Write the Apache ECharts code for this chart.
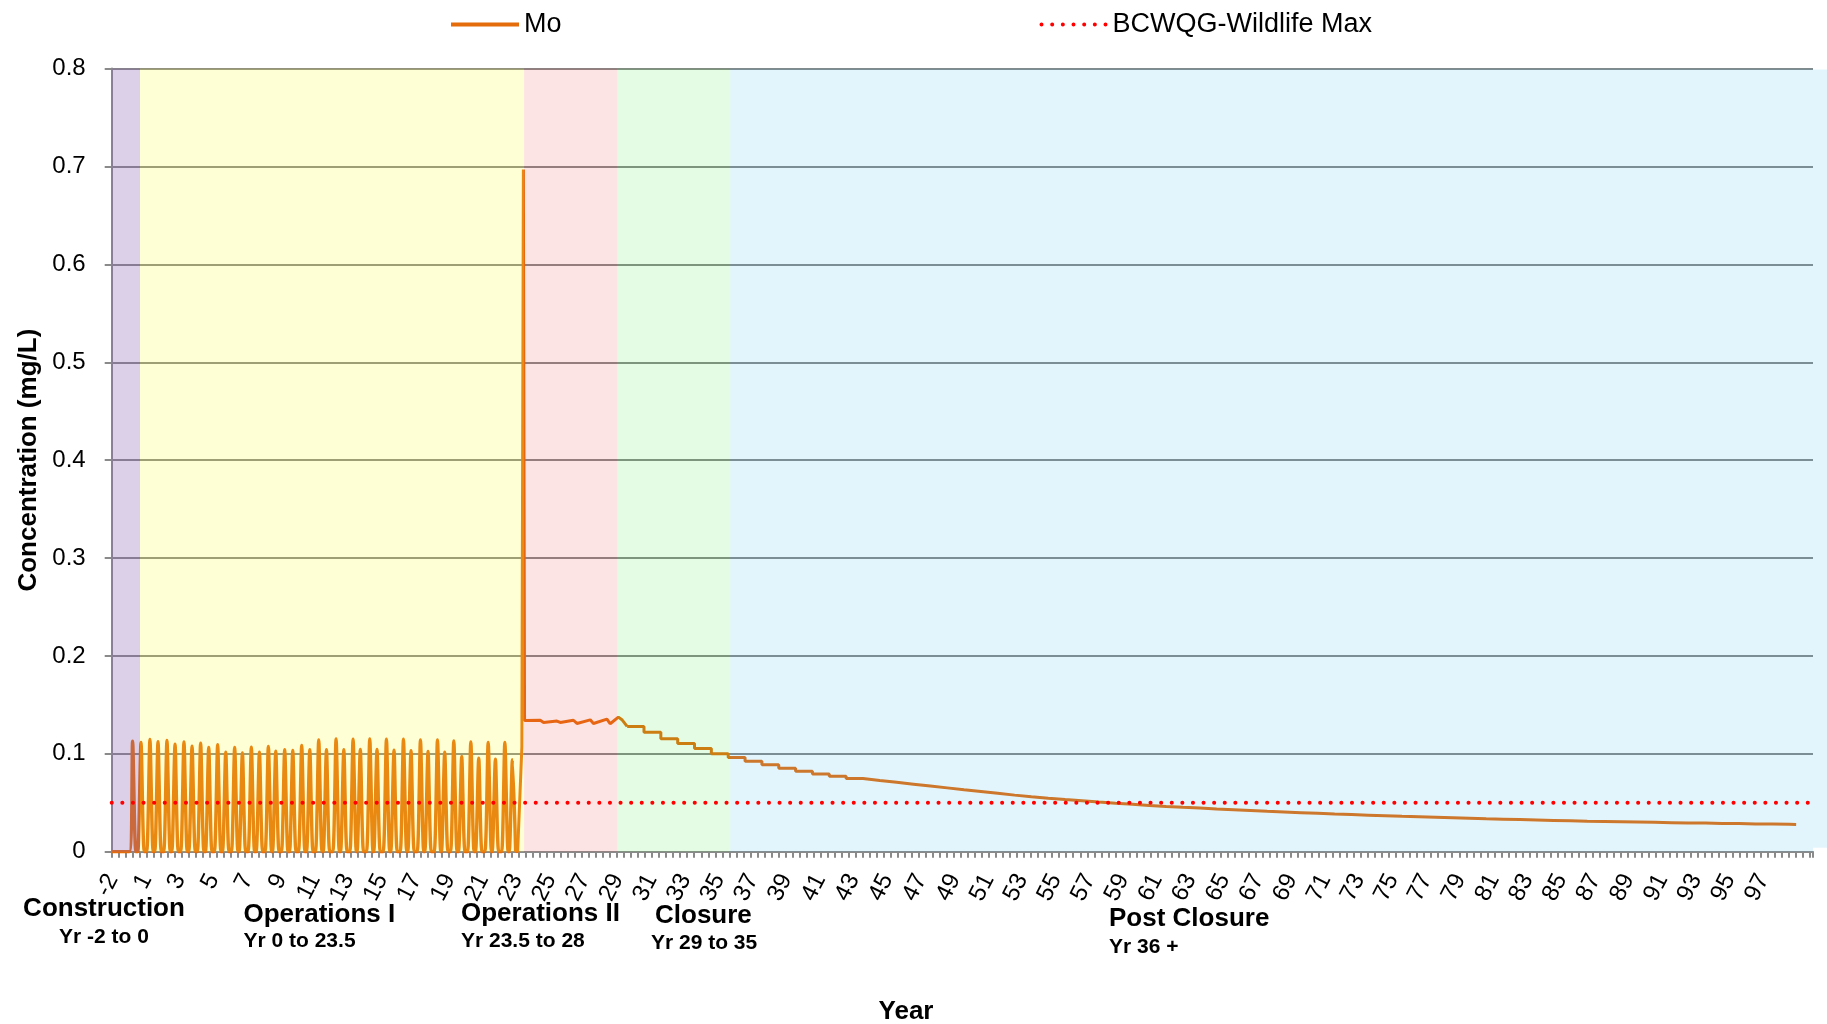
<!DOCTYPE html>
<html>
<head>
<meta charset="utf-8">
<script src="https://cdn.jsdelivr.net/npm/echarts@6/dist/echarts.min.js"></script>
<style>
html,body{margin:0;padding:0;background:#fff;}
#chart{width:1827px;height:1024px;}
</style>
</head>
<body>
<div id="chart"></div>
<script>
// ---------- DATA ----------
// Year labels of the category axis (no year 0); the axis runs one more, unlabelled year
const yearLabels = [-2, -1];
for (let y = 1; y <= 98; y++) yearLabels.push(y);
const axisYears = 101;           // x range: -2 .. 99 (axis years)

// Phases (axis years)
const phaseNames = ['Construction', 'Operations I', 'Operations II', 'Closure', 'Post Closure'];
const phaseSub   = ['Yr -2 to 0', 'Yr 0 to 23.5', 'Yr 23.5 to 28', 'Yr 29 to 35', 'Yr 36 +'];
const phaseStart = [-2, -0.32, 22.48, 28.02, 34.72];
const phaseEnd   = [-0.32, 22.48, 28.02, 34.72, 99];

// Mo - construction and Operations I (seasonal spikes)
const opsIYears = [
  -2, -0.95, -0.76, -0.57, -0.45, -0.26, -0.07,
  0.08, 0.27, 0.46, 0.56, 0.75, 0.94,
  1.09, 1.28, 1.47, 1.57, 1.76, 1.95,
  2.10, 2.29, 2.48, 2.58, 2.77, 2.96,
  3.09, 3.28, 3.47, 3.57, 3.76, 3.95,
  4.10, 4.29, 4.48, 4.58, 4.77, 4.96,
  5.11, 5.30, 5.49, 5.57, 5.76, 5.95,
  6.10, 6.29, 6.48, 6.58, 6.77, 6.96,
  7.11, 7.30, 7.49, 7.55, 7.74, 7.93,
  8.08, 8.27, 8.46, 8.56, 8.75, 8.94,
  9.09, 9.28, 9.47, 9.57, 9.76, 9.95,
  10.10, 10.29, 10.48, 10.56, 10.75, 10.94,
  11.13, 11.32, 11.51, 11.59, 11.78, 11.97,
  12.14, 12.33, 12.52, 12.57, 12.76, 12.95,
  13.13, 13.32, 13.51, 13.56, 13.75, 13.94,
  14.12, 14.31, 14.50, 14.57, 14.76, 14.95,
  15.13, 15.32, 15.51, 15.58, 15.77, 15.96,
  16.14, 16.33, 16.52, 16.59, 16.78, 16.97,
  17.15, 17.34, 17.53, 17.58, 17.77, 17.96,
  18.12, 18.31, 18.50, 18.59, 18.78, 18.97,
  19.13, 19.32, 19.51, 19.60, 19.79, 19.98,
  20.16, 20.35, 20.54, 20.59, 20.78, 20.97,
  21.15, 21.34, 21.53, 21.60, 21.79, 21.98
];
const opsIValues = [
  0, 0, 0.1130, 0, 0, 0.1115, 0,
  0, 0.1146, 0, 0, 0.1125, 0,
  0, 0.1136, 0, 0, 0.1098, 0,
  0, 0.1122, 0, 0, 0.1078, 0,
  0, 0.1108, 0, 0, 0.1064, 0,
  0, 0.1092, 0, 0, 0.1017, 0,
  0, 0.1064, 0, 0, 0.1010, 0,
  0, 0.1068, 0, 0, 0.1017, 0,
  0, 0.1075, 0, 0, 0.1027, 0,
  0, 0.1041, 0, 0, 0.1034, 0,
  0, 0.1085, 0, 0, 0.1041, 0,
  0, 0.1142, 0, 0, 0.1041, 0,
  0, 0.1153, 0, 0, 0.1041, 0,
  0, 0.1149, 0, 0, 0.1044, 0,
  0, 0.1153, 0, 0, 0.1044, 0,
  0, 0.1149, 0, 0, 0.1037, 0,
  0, 0.1149, 0, 0, 0.1031, 0,
  0, 0.1142, 0, 0, 0.1024, 0,
  0, 0.1142, 0, 0, 0.1017, 0,
  0, 0.1132, 0, 0, 0.0973, 0,
  0, 0.1122, 0, 0, 0.0956, 0,
  0, 0.1115, 0, 0, 0.0946, 0,
  0, 0.1115, 0, 0, 0.0939, 0
];

// Mo - Operations II (spike, then plateau with small wiggles)
const opsIIYears  = [21.98, 22.10, 22.35, 22.44, 22.51, 23.44, 23.64, 24.43, 24.63, 25.41, 25.62, 26.41, 26.60, 27.40, 27.59, 28.08, 28.31, 28.60];
const opsIIValues = [0, 0, 0.107, 0.697, 0.134, 0.1343, 0.132, 0.1335, 0.132, 0.1343, 0.131, 0.1347, 0.131, 0.1355, 0.1307, 0.1375, 0.1345, 0.128];

// Mo - Closure / Post Closure (annual steps)
const postYears = [
  28.6, 29.6, 30.6, 31.6, 32.6, 33.6, 34.6, 35.6, 36.6, 37.6,
  38.6, 39.6, 40.6, 41.6, 42.6, 43.6, 44.6, 45.6, 46.6, 47.6,
  48.6, 49.6, 50.6, 51.6, 52.6, 53.6, 54.6, 55.6, 56.6, 57.6,
  58.6, 59.6, 60.6, 61.6, 62.6, 63.6, 64.6, 65.6, 66.6, 67.6,
  68.6, 69.6, 70.6, 71.6, 72.6, 73.6, 74.6, 75.6, 76.6, 77.6,
  78.6, 79.6, 80.6, 81.6, 82.6, 83.6, 84.6, 85.6, 86.6, 87.6,
  88.6, 89.6, 90.6, 91.6, 92.6, 93.6, 94.6, 95.6, 96.6, 97.6,
  98.0
];
const postValues = [
  0.1280, 0.1220, 0.1155, 0.1105, 0.1055, 0.1000, 0.0962, 0.0925, 0.0888, 0.0853,
  0.0822, 0.0795, 0.0770, 0.0748, 0.0728, 0.0709, 0.0690, 0.0671, 0.0652, 0.0633,
  0.0615, 0.0597, 0.0578, 0.0562, 0.0547, 0.0533, 0.0520, 0.0507, 0.0495, 0.0484,
  0.0473, 0.0463, 0.0454, 0.0446, 0.0437, 0.0429, 0.0421, 0.0413, 0.0406, 0.0399,
  0.0392, 0.0385, 0.0379, 0.0373, 0.0367, 0.0361, 0.0356, 0.0351, 0.0346, 0.0341,
  0.0336, 0.0332, 0.0328, 0.0324, 0.0320, 0.0316, 0.0312, 0.0309, 0.0306, 0.0303,
  0.0300, 0.0297, 0.0294, 0.0292, 0.0289, 0.0287, 0.0284, 0.0282, 0.0280, 0.0278,
  0.0276
];

// Guideline
const guideYears  = [-2, 99];
const guideValues = [0.05, 0.05];

// Y-axis
const yMin = 0, yMax = 0.8, yStep = 0.1;

// ---------- BUILD ----------
const zip = (xs, ys) => xs.map((x, i) => [x, ys[i]]);
const monthCats = [];
for (let k = 0; k < axisYears; k++) {
  const lab = k < yearLabels.length ? String(yearLabels[k]) : '';
  for (let m = 0; m < 12; m++) monthCats.push(lab);
}

const bandColors = [
  'rgba(138,98,178,0.30)',
  'rgba(255,255,45,0.20)',
  'rgba(242,75,75,0.15)',
  'rgba(75,235,75,0.15)',
  'rgba(68,188,235,0.15)'
];
const bands = phaseNames.map((n, i) => [
  { xAxis: phaseStart[i], yAxis: yMin, itemStyle: { color: bandColors[i] } },
  { xAxis: phaseEnd[i], yAxis: yMax }
]);

const FONT = 'Liberation Sans, Arial, sans-serif';
const GL = 111.7, GR = 1813, GT = 68.6, GB = 851.7;
const MO = '#E46C0A';

const phaseTextPos = [
  { x: 104, y: 909, align: 'center', sx: 104, sy: 937 },
  { x: 243.5, y: 915, align: 'left', sx: 243.5, sy: 941 },
  { x: 461, y: 914, align: 'left', sx: 461, sy: 941.5 },
  { x: 655, y: 916, align: 'left', sx: 651, sy: 943 },
  { x: 1109, y: 919, align: 'left', sx: 1109, sy: 947 }
];
const graphics = [];
phaseNames.forEach((n, i) => {
  const p = phaseTextPos[i];
  graphics.push({ type: 'text', x: p.x, y: p.y, style: { text: n, font: 'bold 26px ' + FONT, fill: '#000', textAlign: p.align, textVerticalAlign: 'middle' } });
  graphics.push({ type: 'text', x: p.sx, y: p.sy, style: { text: phaseSub[i], font: 'bold 21px ' + FONT, fill: '#000', textAlign: p.align, textVerticalAlign: 'middle' } });
});
graphics.push({ type: 'text', x: 906, y: 1012, style: { text: 'Year', font: 'bold 26px ' + FONT, fill: '#000', textAlign: 'center', textVerticalAlign: 'middle' } });
graphics.push({ type: 'rect', shape: { x: GR, y: GT + 1, width: 1827 - GR, height: GB - GT - 5 }, style: { fill: '#E3F5FC' }, z: -1 });

// dotted legend icon: 7 dots in a 68 x 4 box
let dots = '';
for (let i = 0; i < 7; i++) {
  const cx = 2 + i * 64 / 6;
  dots += 'M' + (cx - 2).toFixed(2) + ',2A2,2,0,1,0,' + (cx + 2).toFixed(2) + ',2A2,2,0,1,0,' + (cx - 2).toFixed(2) + ',2Z';
}

const chart = echarts.init(document.getElementById('chart'), null, { renderer: 'canvas' });
chart.setOption({
  animation: false,
  backgroundColor: '#ffffff',
  textStyle: { fontFamily: FONT },
  grid: { left: GL, right: 1827 - GR, top: GT, bottom: 1024 - GB, containLabel: false, outerBoundsMode: 'none' },
  legend: {
    data: [
      { name: 'Mo', icon: 'rect' },
      { name: 'BCWQG-Wildlife Max', icon: 'path://' + dots }
    ],
    left: 446, top: 6,
    itemWidth: 68, itemHeight: 4, itemGap: 478,
    textStyle: { fontSize: 27, color: '#000', fontFamily: FONT },
    selectedMode: false
  },
  xAxis: [
    { type: 'value', min: -2, max: -2 + axisYears, show: false },
    {
      type: 'category', data: monthCats, position: 'bottom', boundaryGap: true,
      axisLine: { show: true, onZero: false, lineStyle: { color: '#8a8a8a', width: 2 } },
      axisTick: { show: true, interval: 4, length: 6, lineStyle: { color: '#8a8a8a', width: 2 } },
      axisLabel: { interval: 23, rotate: 63, fontSize: 24, color: '#000', margin: 24, fontFamily: FONT },
      splitLine: { show: false }
    }
  ],
  yAxis: {
    type: 'value', min: yMin, max: yMax, interval: yStep,
    name: 'Concentration (mg/L)', nameLocation: 'middle', nameRotate: 90, nameGap: 70,
    nameTextStyle: { fontSize: 26, fontWeight: 'bold', color: '#000', fontFamily: FONT },
    axisLine: { show: true, onZero: false, lineStyle: { color: '#8a8a8a', width: 2 } },
    axisTick: { show: true, length: 7, lineStyle: { color: '#8a8a8a', width: 2 } },
    axisLabel: { fontSize: 24, color: '#000', margin: 26, fontFamily: FONT },
    splitLine: { show: true, lineStyle: { color: '#878787', width: 2 } }
  },
  graphic: graphics,
  series: [
    {
      name: 'Mo', type: 'line', xAxisIndex: 0, data: zip(opsIYears, opsIValues), showSymbol: false, symbol: 'none',
      smooth: 0.25, lineStyle: { color: MO, width: 3.4 }, itemStyle: { color: MO }, z: 2
    },
    {
      name: 'Mo', type: 'line', xAxisIndex: 0, data: zip(opsIIYears, opsIIValues), showSymbol: false, symbol: 'none',
      lineStyle: { color: MO, width: 3 }, itemStyle: { color: MO }, z: 2
    },
    {
      name: 'Mo', type: 'line', xAxisIndex: 0, data: zip(postYears, postValues), showSymbol: false, symbol: 'none', step: 'end',
      lineStyle: { color: MO, width: 3 }, itemStyle: { color: MO }, z: 2
    },
    {
      name: 'phases', type: 'line', xAxisIndex: 0, data: [], z: 3, silent: true,
      markArea: { silent: true, z: 3, data: bands }
    },
    {
      name: 'BCWQG-Wildlife Max', type: 'line', xAxisIndex: 0, data: zip(guideYears, guideValues), showSymbol: false, symbol: 'none',
      lineStyle: { color: '#FF0000', width: 4, type: [0.1, 10.5], cap: 'round' }, itemStyle: { color: '#FF0000' }, z: 4
    }
  ]
});
</script>
</body>
</html>
